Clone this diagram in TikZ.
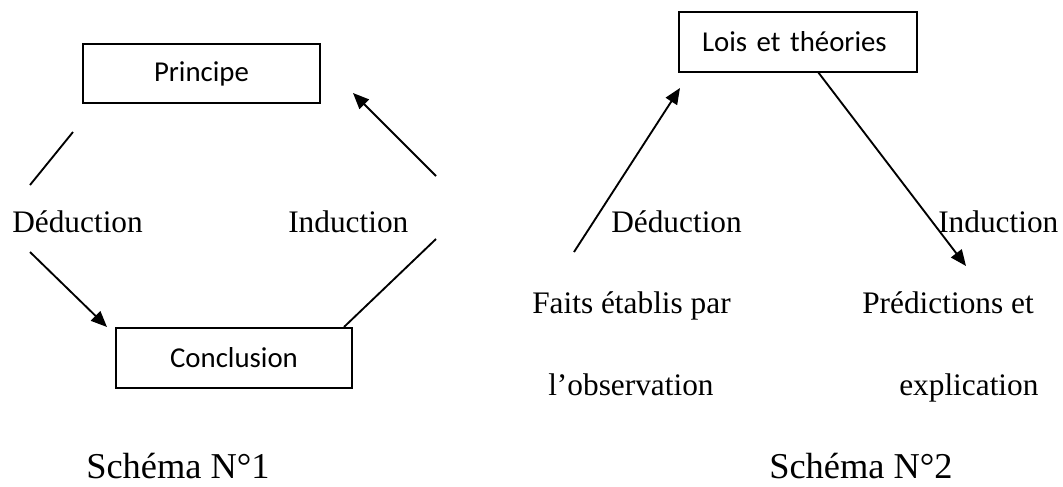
\documentclass[tikz,border=0pt]{standalone}
\usepackage{fontspec}
\setmainfont{Liberation Serif}
\newfontfamily\calibrifont{Carlito}
\usetikzlibrary{arrows.meta}
\begin{document}
\begin{tikzpicture}[x=0.75pt,y=-0.75pt,
  box/.style={draw, line width=1pt, inner sep=0pt, font=\calibrifont\fontsize{21.6}{26}\selectfont},
  lbl/.style={anchor=base west, inner sep=0pt, font=\fontsize{23.5}{28}\selectfont},
  ttl/.style={anchor=base west, inner sep=0pt, text depth=0pt, font=\fontsize{27.3}{32}\selectfont},
  conn/.style={line width=1.4pt},
  arr/.style={conn, -{Triangle[length=12pt,width=10pt]}}]
\useasboundingbox (0,0) rectangle (1063,486);
% Schema 1
\node[box, minimum width=177.75pt, minimum height=44.25pt] (principe) at (201.5,73.5) {Principe};
\node[box, minimum width=177pt, minimum height=45pt] (conclusion) at (234,358) {Conclusion};
\node[lbl] (ded1) at (12,232) {Déduction};
\node[lbl] (ind1) at (288,232) {Induction};
\node[ttl] (ttl1) at (86,478) {Schéma N°1};
\coordinate (c1a) at (73,132);
\coordinate (c1b) at (30,185);
\coordinate (c1c) at (30,252);
\coordinate (c1d) at (107,327);
\coordinate (c1e) at (436,176);
\coordinate (c1f) at (353,93);
\coordinate (c1g) at (436,239);
\coordinate (c1h) at (344,327);
\draw[conn] (c1a) -- (c1b);
\draw[arr] (c1c) -- (c1d);
\draw[arr] (c1e) -- (c1f);
\draw[conn] (c1g) -- (c1h);
% Schema 2
\node[box, minimum width=178.5pt, minimum height=45pt, text width=144pt, inner xsep=17.25pt, align=left] (lois) at (798,42) {Lois et théories};
\node[lbl] (ded2) at (611,232) {Déduction};
\node[lbl] (ind2) at (938,232) {Induction};
\node[lbl] (faits) at (532,313) {Faits établis par};
\node[lbl] (obs) at (548,395) {l’observation};
\node[lbl] (pred) at (862,313) {Prédictions et};
\node[lbl] (expl) at (899,395) {explication};
\node[ttl] (ttl2) at (769,478) {Schéma N°2};
\coordinate (c2a) at (574,252);
\coordinate (c2b) at (680,88);
\coordinate (c2c) at (818,72);
\coordinate (c2d) at (966,266);
\draw[arr] (c2a) -- (c2b);
\draw[arr] (c2c) -- (c2d);
\end{tikzpicture}
\end{document}
